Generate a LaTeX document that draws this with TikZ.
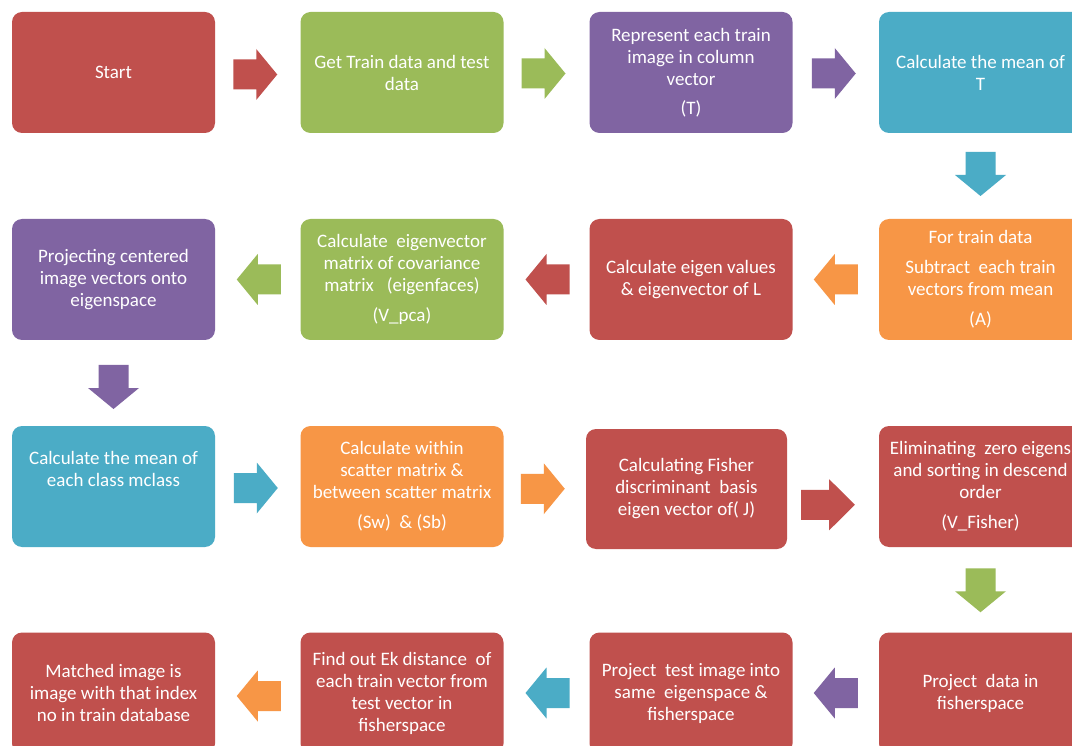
\documentclass[tikz,border=0pt]{standalone}
\usepackage{fontspec}
\setmainfont{Carlito}
\usetikzlibrary{calc}
\definecolor{cred}{HTML}{C0504D}
\definecolor{cgreen}{HTML}{9BBB59}
\definecolor{cpurple}{HTML}{8064A2}
\definecolor{cteal}{HTML}{4BACC6}
\definecolor{corange}{HTML}{F79646}
\tikzset{
  box/.style={rounded corners=10pt, minimum width=203pt, minimum height=121pt,
    text=white, align=center, inner sep=0pt, font=\fontsize{19}{22}\selectfont},
}
% #1 colour, #2 from node, #3 to node, #4 angle, #5 extra transform
\newcommand\flowarrow[5]{%
  \fill[#1, shift={($(#2.center)!0.5!(#3.center)$)}, #5, rotate=#4]
    (-22,-15) -- (1,-15) -- (1,-25.5) -- (22,0) -- (1,25.5) -- (1,15) -- (-22,15) -- cycle;}
\begin{document}
\begin{tikzpicture}[x=1pt,y=1pt]
\clip (0,0) rectangle (1072,-746);
\fill[white] (0,0) rectangle (1072,-746);
% row 1
\node[box, fill=cred]    (start) at (113.5,-72.5) {Start};
\node[box, fill=cgreen]  (get)   at (402,-72.5)   {Get Train data and test\\data};
\node[box, fill=cpurple] (rep)   at (691,-72.5)   {Represent each train\\image in column\\vector\\[7pt](T)};
\node[box, fill=cteal]   (meanT) at (980.5,-72.5) {Calculate the mean of\\T};
% row 2
\node[box, fill=corange] (sub)   at (980.5,-279.5) {For train data\\[8pt]Subtract~ each train\\vectors from mean\\[8pt](A)};
\node[box, fill=cred]    (eigv)  at (691,-279.5)   {Calculate eigen values\\\& eigenvector of L};
\node[box, fill=cgreen]  (vpca)  at (402,-279.5)   {Calculate~ eigenvector\\matrix of covariance\\matrix~~ (eigenfaces)\\[8pt](V\_pca)};
\node[box, fill=cpurple] (proj)  at (113.5,-279.5) {Projecting centered\\image vectors onto\\eigenspace};
% row 3
\node[box, fill=cteal]   (meanC) at (113.5,-486.5) {Calculate the mean of\\each class mclass\\[13pt]~};
\node[box, fill=corange] (scat)  at (402,-486.5)   {Calculate within\\scatter matrix \&\\between scatter matrix\\[8pt](Sw)~ \& (Sb)};
\node[box, fill=cred, minimum width=201pt, minimum height=120pt] (fish) at (686.5,-489) {Calculating Fisher\\discriminant~ basis\\eigen vector of( J)};
\node[box, fill=cred]    (elim)  at (980.5,-486.5) {Eliminating~ zero eigens\\and sorting in descend\\order\\[8pt](V\_Fisher)};
% row 4
\node[box, fill=cred]    (pdata) at (980.5,-693) {Project~ data in\\fisherspace};
\node[box, fill=cred]    (ptest) at (691,-693)   {Project~ test image into\\same~ eigenspace \&\\fisherspace};
\node[box, fill=cred]    (dist)  at (402,-693)   {Find out Ek distance~ of\\each train vector from\\test vector in\\fisherspace};
\node[box, fill=cred]    (match) at (113.5,-693) {Matched image is\\image with that index\\no in train database};
% connectors
\flowarrow{cred}{start}{get}{0}{xshift=-2.5pt,yshift=-2pt}
\flowarrow{cgreen}{get}{rep}{0}{xshift=-3pt,yshift=-1pt}
\flowarrow{cpurple}{rep}{meanT}{0}{xshift=-2pt,yshift=-1pt}
\flowarrow{cteal}{meanT}{sub}{-90}{yshift=2pt}
\flowarrow{corange}{sub}{eigv}{180}{xshift=0pt}
\flowarrow{cred}{eigv}{vpca}{180}{xshift=1pt}
\flowarrow{cgreen}{vpca}{proj}{180}{xshift=1pt}
\flowarrow{cpurple}{proj}{meanC}{-90}{yshift=-4pt}
\flowarrow{cteal}{meanC}{scat}{0}{xshift=-2pt,yshift=-1.5pt}
\flowarrow{corange}{scat}{fish}{0}{xshift=-1.5pt,yshift=-1pt}
\flowarrow{cred}{fish}{elim}{0}{xshift=-5.5pt,yshift=-17pt,xscale=1.22}
\flowarrow{cgreen}{elim}{pdata}{-90}{yshift=-0.5pt}
\flowarrow{cpurple}{pdata}{ptest}{180}{xshift=0pt}
\flowarrow{cteal}{ptest}{dist}{180}{xshift=1pt}
\flowarrow{corange}{dist}{match}{180}{xshift=1pt,yshift=-3pt}
\end{tikzpicture}
\end{document}
